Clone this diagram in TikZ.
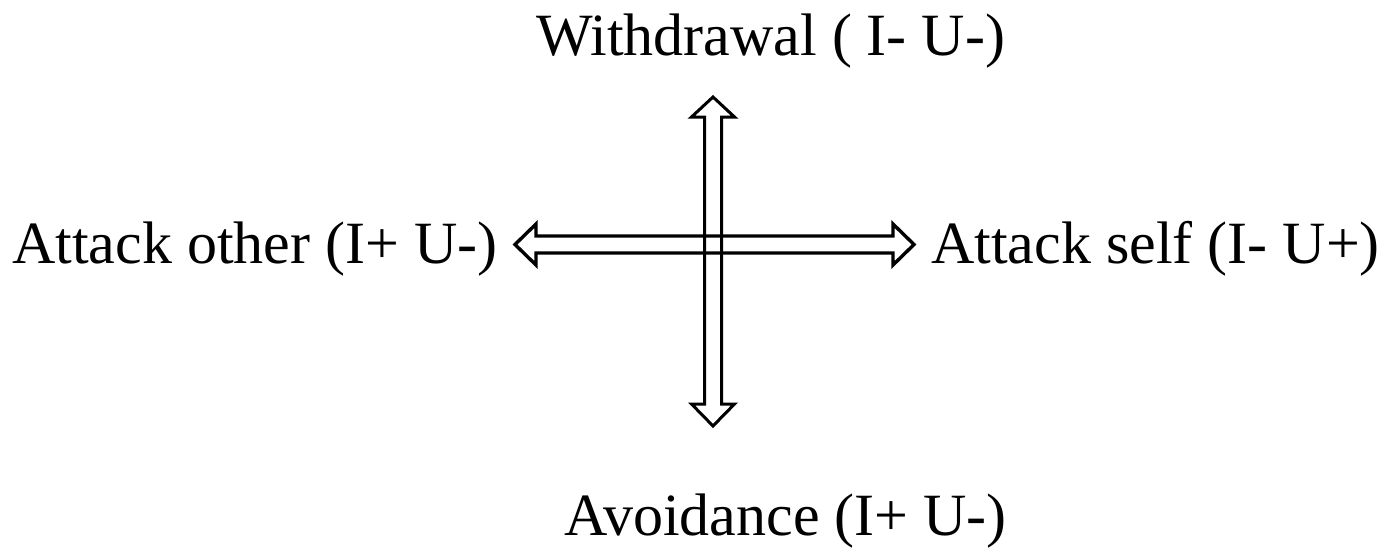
\documentclass[tikz,border=0pt]{standalone}
\usepackage{fontspec}
\setmainfont{Liberation Serif}
\usetikzlibrary{calc}
\begin{document}
\begin{tikzpicture}[x=1pt,y=-1pt,
  lbl/.style={anchor=base west,inner sep=0pt,font=\fontsize{60}{72}\selectfont},
  hollowarrow/.style={draw=black,line join=miter}]
\useasboundingbox (0,0) rectangle (1383,549);
\node[lbl] (wd) at (536,55) {Withdrawal ( I- U-)};
\node[lbl] (ao) at (12,263) {Attack other (I+ U-)};
\node[lbl] (as) at (931,263) {Attack self (I- U+)};
\node[lbl] (av) at (564,535) {Avoidance (I+ U-)};
% horizontal double arrow
\coordinate (hc) at (714.5,244.5);
\draw[hollowarrow,line width=3.4pt] ($(hc)+(-199.5,0)$) -- ++(21,-20.5) -- ++(0,12) -- ++(357,0) -- ++(0,-12)
  -- ($(hc)+(199.5,0)$) -- ++(-21,20.5) -- ++(0,-12) -- ++(-357,0) -- ++(0,12) -- cycle;
% vertical double arrow
\coordinate (vc) at (713,261.5);
\draw[hollowarrow,line width=3pt] ($(vc)+(0,-164.5)$) -- ++(21.5,20) -- ++(-13,0) -- ++(0,287) -- ++(13,0)
  -- ($(vc)+(0,164.5)$) -- ++(-21.5,-22) -- ++(13,0) -- ++(0,-287) -- ++(-13,0) -- cycle;
\end{tikzpicture}
\end{document}
